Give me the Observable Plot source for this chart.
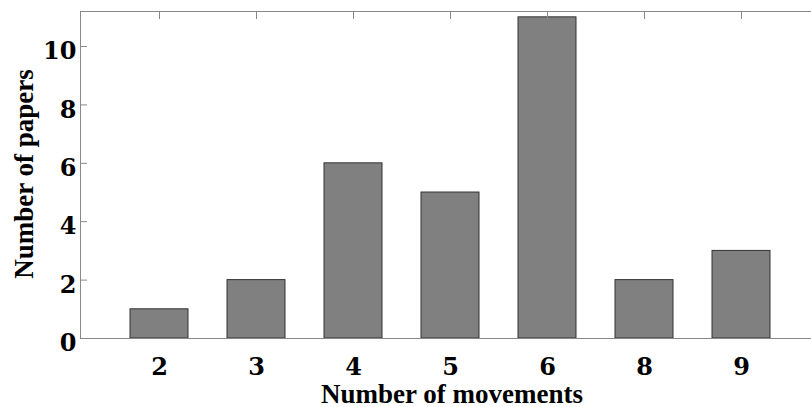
<!DOCTYPE html>
<html>
<head>
<meta charset="utf-8">
<script src="https://cdn.jsdelivr.net/npm/d3@7"></script>
<script src="https://cdn.jsdelivr.net/npm/@observablehq/plot@0.6"></script>
<style>
  html, body { margin: 0; padding: 0; background: #fff; }
</style>
</head>
<body>
<div id="chart"></div>
<script>
// Papers grouped by the number of movements they study
const movements = ["2", "3", "4", "5", "6", "8", "9"];
const papers = [1, 2, 6, 5, 11, 2, 3];
const yTicks = [0, 2, 4, 6, 8, 10];
const xTitle = "Number of movements";
const yTitle = "Number of papers";

const data = movements.map((m, i) => ({movements: m, papers: papers[i]}));

const W = 811, H = 407;
const mL = 80, mT = 11, mB = 69, mR = 0;
const axisColor = "#888";
const tickFont = "DejaVu Serif";
const titleFont = "Liberation Serif";
const plotH = H - mT - mB;
const plotW = W - mL - mR;

const chart = Plot.plot({
  width: W,
  height: H,
  marginLeft: mL,
  marginTop: mT,
  marginBottom: mB,
  marginRight: mR,
  style: {background: "#fff", overflow: "visible"},
  x: {type: "band", domain: movements, range: [mL, 821], paddingInner: 0.4, paddingOuter: 0.5},
  y: {domain: [0, 11.2]},
  marks: [
    Plot.barY(data, {x: "movements", y: "papers", fill: "#808080", stroke: "#333", strokeWidth: 1}),
    // box edges (right side falls outside the view)
    Plot.ruleY([0, 11.2], {stroke: axisColor}),
    Plot.frame({anchor: "left", stroke: axisColor}),
    // inward ticks
    Plot.tickY(yTicks, {y: d => d, stroke: axisColor, insetRight: plotW - 7}),
    Plot.tickX(movements, {x: d => d, stroke: axisColor, insetBottom: plotH - 8}),
    // tick labels
    Plot.axisY({ticks: yTicks, tickSize: 0, tickPadding: 4, dy: 5, label: null,
      fontSize: 24, fontWeight: "bold", fontFamily: tickFont, fill: "#000", tickFormat: d => String(d)}),
    Plot.axisX({tickSize: 0, tickPadding: 19, label: null,
      fontSize: 24, fontWeight: "bold", fontFamily: tickFont, fill: "#000"}),
    // axis titles
    Plot.text([xTitle], {frameAnchor: "bottom", dx: 6, dy: 64, lineAnchor: "bottom",
      fontSize: 27, fontWeight: "bold", fontFamily: titleFont, fill: "#000"}),
    Plot.text([yTitle], {frameAnchor: "left", dx: -48, dy: -1, rotate: -90,
      textAnchor: "middle", lineAnchor: "bottom",
      fontSize: 27, fontWeight: "bold", fontFamily: titleFont, fill: "#000"})
  ]
});

document.getElementById("chart").appendChild(chart);
</script>
</body>
</html>
